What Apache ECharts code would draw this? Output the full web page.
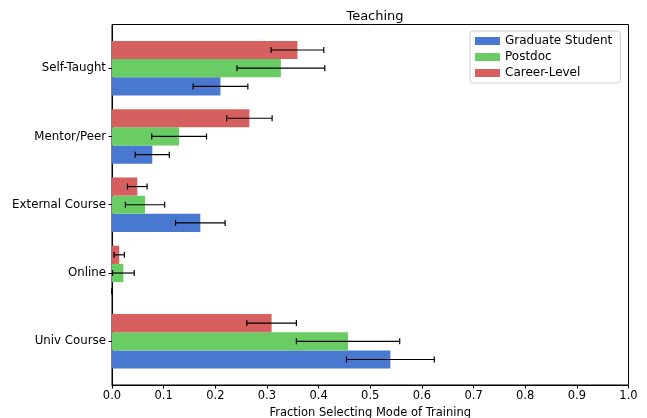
<!DOCTYPE html>
<html>
<head>
<meta charset="utf-8">
<script src="https://cdn.jsdelivr.net/npm/echarts@6/dist/echarts.min.js"></script>
<style>
  html, body { margin: 0; padding: 0; background: #fff; }
  #chart { width: 647px; height: 418px; }
</style>
</head>
<body>
<div id="chart"></div>
<script>
// categories, bottom to top
var categories = ["Univ Course", "Online", "External Course", "Mentor/Peer", "Self-Taught"];
var seriesNames = ["Graduate Student", "Postdoc", "Career-Level"];

// fraction values + symmetric error
var gradVals = [0.539, 0.0, 0.171, 0.078, 0.210];
var gradErr = [0.085, 0.0, 0.048, 0.033, 0.053];
var postdocVals = [0.457, 0.022, 0.064, 0.130, 0.327];
var postdocErr = [0.100, 0.021, 0.038, 0.053, 0.085];
var careerVals = [0.309, 0.014, 0.049, 0.266, 0.359];
var careerErr = [0.048, 0.010, 0.019, 0.044, 0.051];

var colors = ["#4878CF", "#6ACC65", "#D65F5F"];
var barH = 0.8 / 3; // bar thickness in category units
var font = "DejaVu Sans";

function rows(vals, errs) {
  return vals.map(function (v, i) { return [i, v, errs[i]]; });
}

// bar + errorbar drawn in one custom item
function makeRender(offset, color) {
  return function (params, api) {
    var y = api.value(0) + offset;
    var v = api.value(1);
    var e = api.value(2);
    var p0 = api.coord([0, y + barH / 2]);
    var p1 = api.coord([v, y - barH / 2]);
    var lo = api.coord([v - e, y]);
    var hi = api.coord([v + e, y]);
    var cap = 3;
    var lineStyle = { stroke: "#000", lineWidth: 1.2 };
    return {
      type: "group",
      children: [
        {
          type: "rect",
          shape: { x: p0[0], y: p0[1], width: p1[0] - p0[0], height: p1[1] - p0[1] },
          style: { fill: color }
        },
        { type: "line", shape: { x1: lo[0], y1: lo[1], x2: hi[0], y2: hi[1] }, style: lineStyle },
        { type: "line", shape: { x1: lo[0], y1: lo[1] - cap, x2: lo[0], y2: lo[1] + cap }, style: lineStyle },
        { type: "line", shape: { x1: hi[0], y1: hi[1] - cap, x2: hi[0], y2: hi[1] + cap }, style: lineStyle }
      ]
    };
  };
}

var chart = echarts.init(document.getElementById("chart"), null, { renderer: "canvas" });

var opt = {
  animation: false,
  textStyle: { fontFamily: font },
  title: {
    text: "Teaching",
    left: 370,
    textAlign: "center",
    top: 5,
    textStyle: { fontFamily: font, fontSize: 13, fontWeight: "normal", color: "#000" }
  },
  legend: {
    orient: "vertical",
    left: 470,
    top: 31,
    icon: "rect",
    itemWidth: 25,
    itemHeight: 8,
    itemGap: 4,
    padding: [4, 8, 4, 5],
    borderColor: "#ccc",
    borderWidth: 1,
    borderRadius: 3,
    backgroundColor: "#fff",
    textStyle: { fontFamily: font, fontSize: 12, color: "#000" },
    data: seriesNames
  },
  grid: {
    left: 112,
    right: 18.5,
    top: 24.5,
    bottom: 33,
    show: true,
    borderColor: "#000",
    borderWidth: 1,
    outerBoundsMode: "none"
  },
  xAxis: {
    type: "value",
    min: 0,
    max: 1,
    interval: 0.1,
    name: "Fraction Selecting Mode of Training",
    nameLocation: "middle",
    nameGap: 17,
    nameTextStyle: { fontFamily: font, fontSize: 11.5, color: "#000" },
    axisLine: { show: true, onZero: false, lineStyle: { color: "#000", width: 1 } },
    axisTick: { show: true, inside: false, length: 3.5, lineStyle: { color: "#000" } },
    axisLabel: {
      fontFamily: font,
      fontSize: 11.5,
      color: "#000",
      margin: 5,
      formatter: function (v) { return v.toFixed(1); }
    },
    splitLine: { show: false }
  },
  yAxis: {
    type: "value",
    min: -0.64,
    max: 4.64,
    axisLine: { show: true, onZero: false, lineStyle: { color: "#000", width: 1 } },
    axisTick: {
      show: true,
      length: 3.5,
      lineStyle: { color: "#000" },
      customValues: [0, 1, 2, 3, 4]
    },
    axisLabel: {
      fontFamily: font,
      fontSize: 11.8,
      color: "#000",
      margin: 6,
      customValues: [0, 1, 2, 3, 4],
      formatter: function (v) { return categories[Math.round(v)]; }
    },
    splitLine: { show: false }
  },
  series: [
    {
      name: seriesNames[0],
      type: "custom",
      itemStyle: { color: colors[0] },
      renderItem: makeRender(-barH, colors[0]),
      encode: { x: 1, y: 0 },
      data: rows(gradVals, gradErr)
    },
    {
      name: seriesNames[1],
      type: "custom",
      itemStyle: { color: colors[1] },
      renderItem: makeRender(0, colors[1]),
      encode: { x: 1, y: 0 },
      data: rows(postdocVals, postdocErr)
    },
    {
      name: seriesNames[2],
      type: "custom",
      itemStyle: { color: colors[2] },
      renderItem: makeRender(barH, colors[2]),
      encode: { x: 1, y: 0 },
      data: rows(careerVals, careerErr)
    }
  ]
};

chart.setOption(opt);
</script>
</body>
</html>
